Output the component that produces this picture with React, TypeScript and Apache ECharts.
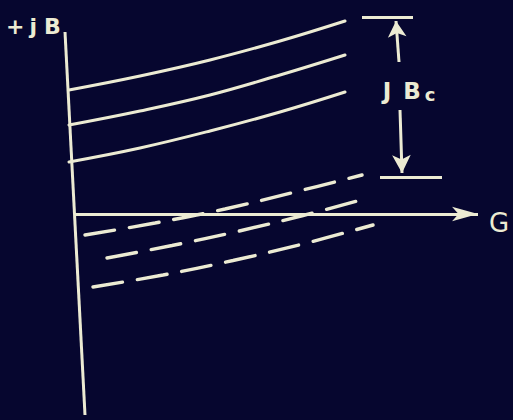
import React, { useEffect, useRef } from "react";
import * as echarts from "echarts";

// Susceptance (B) against conductance (G): solid curves above the G axis,
// dashed curves below, with the offset jBc marked on the right.
const SOLID_G = [-0.6, 6.5, 13.5, 20.5, 27.0];
const SOLID_B_1 = [12.4, 13.8, 15.4, 17.3, 19.3];
const SOLID_B_2 = [8.9, 10.3, 11.9, 13.9, 15.9];
const SOLID_B_3 = [5.2, 6.6, 8.3, 10.2, 12.2];

const DASHED_G_1 = [1.0, 8.0, 15.0, 22.0, 28.7];
const DASHED_B_1 = [-2.1, -0.9, 0.5, 2.2, 3.9];
const DASHED_G_2 = [3.2, 9.7, 16.3, 22.8, 29.3];
const DASHED_B_2 = [-4.4, -3.15, -1.73, -0.15, 1.6];
const DASHED_G_3 = [1.8, 8.8, 15.8, 22.8, 29.8];
const DASHED_B_3 = [-7.3, -6.1, -4.65, -2.99, -1.1];

// axis extents
const G_AXIS_END = 40.3;
const B_AXIS_TOP = 18.2;
const B_AXIS_BOTTOM = -20.1;
const B_AXIS_LEAN = 1.0;

// jBc bracket
const BRACKET_TOP_G = [28.7, 33.8];
const BRACKET_BOTTOM_G = [30.5, 36.7];
const BRACKET_TOP_B = 19.7;
const BRACKET_BOTTOM_B = 3.7;
const UP_ARROW = { g: [32.4, 32.1], b: [15.2, 19.3] };
const DOWN_ARROW = { g: [32.5, 32.7], b: [10.4, 4.1] };

const INK = "#ecebd3";
const BG = "#06062f";
const FONT = "'DejaVu Sans', sans-serif";

const zip = (xs: number[], ys: number[]) => xs.map((x, i) => [x, ys[i]]);

export default function App() {
  const ref = useRef<HTMLDivElement>(null);

  useEffect(() => {
    if (!ref.current) return;
    const chart = echarts.init(ref.current, null, { renderer: "svg" });

    const solid = (name: string, b: number[]) => ({
      name,
      type: "line",
      data: zip(SOLID_G, b),
      smooth: 0.4,
      showSymbol: false,
      silent: true,
      lineStyle: { color: INK, width: 3, cap: "round" },
    });
    const dashed = (name: string, g: number[], b: number[]) => ({
      name,
      type: "line",
      data: zip(g, b),
      smooth: 0.4,
      showSymbol: false,
      silent: true,
      lineStyle: { color: INK, width: 3.4, type: [30, 15], cap: "round" },
    });

    const seg = (
      a: number[],
      b: number[],
      endSymbol = "none",
      size: number | number[] = 12
    ) => [
      { coord: a, symbol: "none" },
      { coord: b, symbol: endSymbol, symbolSize: size },
    ];

    chart.setOption({
      animation: false,
      backgroundColor: BG,
      grid: { left: 0, right: 0, top: 0, bottom: 0 },
      xAxis: { type: "value", min: -7.5, max: 43.8, show: false },
      yAxis: { type: "value", min: -20.6, max: 21.4, show: false },
      series: [
        solid("upper 1", SOLID_B_1),
        solid("upper 2", SOLID_B_2),
        solid("upper 3", SOLID_B_3),
        dashed("lower 1", DASHED_G_1, DASHED_B_1),
        dashed("lower 2", DASHED_G_2, DASHED_B_2),
        dashed("lower 3", DASHED_G_3, DASHED_B_3),
        {
          name: "axes",
          type: "line",
          data: [[0, 0]],
          showSymbol: false,
          silent: true,
          markLine: {
            silent: true,
            animation: false,
            label: { show: false },
            lineStyle: { color: INK, width: 3, type: "solid" },
            emphasis: { disabled: true },
            data: [
              seg([0, 0], [G_AXIS_END, 0], "arrow", [11, 26]),
              seg([-B_AXIS_LEAN, B_AXIS_TOP], [B_AXIS_LEAN, B_AXIS_BOTTOM]),
              seg([BRACKET_TOP_G[0], BRACKET_TOP_B], [BRACKET_TOP_G[1], BRACKET_TOP_B]),
              seg([BRACKET_BOTTOM_G[0], BRACKET_BOTTOM_B], [BRACKET_BOTTOM_G[1], BRACKET_BOTTOM_B]),
              seg([UP_ARROW.g[0], UP_ARROW.b[0]], [UP_ARROW.g[1], UP_ARROW.b[1]], "arrow", [14, 16]),
              seg([DOWN_ARROW.g[0], DOWN_ARROW.b[0]], [DOWN_ARROW.g[1], DOWN_ARROW.b[1]], "arrow", [14, 18]),
            ],
          },
        },
      ],
      graphic: [
        {
          type: "text",
          left: 6,
          top: 15,
          silent: true,
          style: {
            text: "{p|+}{j|j}{b|B}",
            fill: INK,
            rich: {
              p: { fontSize: 22, fontFamily: FONT, fontWeight: "bold", fill: INK, padding: [0, 5, 0, 0] },
              j: { fontSize: 22, fontFamily: FONT, fontWeight: "bold", fill: INK, padding: [0, 7, 0, 0] },
              b: { fontSize: 22, fontFamily: FONT, fontWeight: "bold", fill: INK },
            },
          },
        },
        {
          type: "text",
          x: 499,
          y: 223,
          silent: true,
          style: {
            text: "G",
            fill: INK,
            font: `26px ${FONT}`,
            align: "center",
            verticalAlign: "middle",
          },
        },
        {
          type: "text",
          x: 409,
          y: 91,
          silent: true,
          style: {
            text: "{j|J}{b|B}{c|c}",
            fill: INK,
            align: "center",
            verticalAlign: "middle",
            rich: {
              j: { fontSize: 23, fontFamily: FONT, fontWeight: "bold", fill: INK, padding: [0, 12, 0, 0] },
              b: { fontSize: 23, fontFamily: FONT, fontWeight: "bold", fill: INK, padding: [0, 4, 0, 0] },
              c: { fontSize: 18, fontFamily: FONT, fontWeight: "bold", fill: INK, padding: [7, 0, 0, 0] },
            },
          },
        },
      ],
    });

    return () => chart.dispose();
  }, []);

  return (
    <div
      ref={ref}
      style={{ position: "fixed", left: 0, top: 0, width: 513, height: 420 }}
    />
  );
}
